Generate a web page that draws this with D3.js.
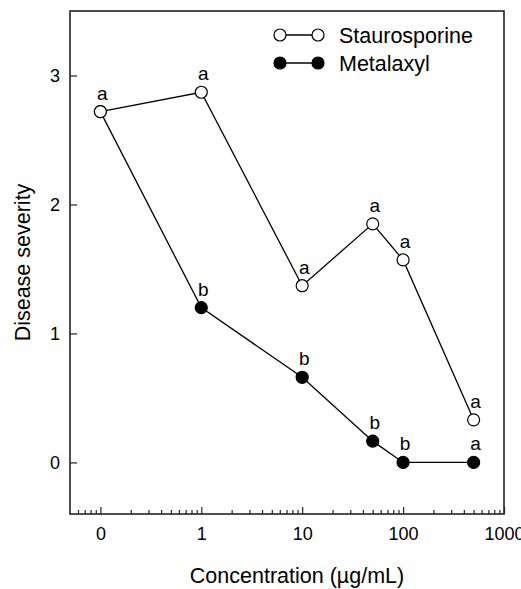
<!DOCTYPE html>
<html>
<head>
<meta charset="utf-8">
<script src="https://cdn.jsdelivr.net/npm/d3@7"></script>
<style>
  body { margin: 0; background: #fff; }
  text { font-family: "Liberation Sans", Arial, sans-serif; fill: #000; }
</style>
</head>
<body>
<div id="chart"></div>
<script>
// concentrations (ug/mL); the "0" control is drawn at 0.1 on the log axis
const concentrations = [0.1, 1, 10, 50, 100, 500];
const staurosporine = [2.72, 2.87, 1.37, 1.85, 1.57, 0.33];
const metalaxyl = [2.72, 1.2, 0.66, 0.165, 0, 0];
const stauroLetters = ["a", "a", "a", "a", "a", "a"];
const metaLetters = ["", "b", "b", "b", "b", "a"];
const xTickValues = [0.1, 1, 10, 100, 1000];
const xTickLabels = ["0", "1", "10", "100", "1000"];
const yTickValues = [0, 1, 2, 3];

var width = 521, height = 589;
var margin = {top: 11, right: 17, bottom: 75, left: 70};
var w = width - margin.left - margin.right,
    h = height - margin.top - margin.bottom;

var svg = d3.select("#chart").append("svg")
  .attr("width", width)
  .attr("height", height)
  .append("g")
    .attr("transform", "translate(" + margin.left + "," + margin.top + ")");

var x = d3.scaleLog().domain([0.05, 1000]).range([0, w]);
var y = d3.scaleLinear().domain([-0.4, 3.5]).range([h, 0]);

// minor ticks on the log axis
var minor = [];
[0.01, 0.1, 1, 10, 100].forEach(function(d) {
  for (var i = 2; i <= 9; i++) {
    var v = d * i;
    if (v > 0.05 && v < 1000) minor.push(v);
  }
});

svg.append("g")
  .attr("transform", "translate(0," + h + ")")
  .call(d3.axisBottom(x).tickValues(minor).tickSize(-4).tickFormat(""))
  .call(function(g) { g.select(".domain").remove(); })
  .selectAll("line").attr("stroke", "#222").attr("stroke-width", 1.2);

// major x ticks
svg.append("g")
  .attr("transform", "translate(0," + h + ")")
  .call(d3.axisBottom(x).tickValues(xTickValues).tickSize(-7).tickPadding(13)
    .tickFormat(function(d, i) { return xTickLabels[i]; }))
  .call(function(g) { g.select(".domain").remove(); })
  .call(function(g) {
    g.selectAll("line").attr("stroke", "#222").attr("stroke-width", 1.2);
    g.selectAll("text").style("font-size", "18px").attr("fill", "#000");
  });

// y axis
svg.append("g")
  .call(d3.axisLeft(y).tickValues(yTickValues).tickSize(-7).tickPadding(10)
    .tickFormat(d3.format("d")))
  .call(function(g) { g.select(".domain").remove(); })
  .call(function(g) {
    g.selectAll("line").attr("stroke", "#222").attr("stroke-width", 1.2);
    g.selectAll("text").style("font-size", "18px").attr("fill", "#000");
  });

// frame
svg.append("rect")
  .attr("width", w).attr("height", h)
  .attr("fill", "none").attr("stroke", "#222").attr("stroke-width", 1.6);

var line = d3.line()
  .x(function(d) { return x(d[0]); })
  .y(function(d) { return y(d[1]); });

function drawSeries(values, letters, fill) {
  var pts = concentrations.map(function(c, i) { return [c, values[i], letters[i]]; });
  svg.append("path")
    .datum(pts)
    .attr("d", line)
    .attr("fill", "none")
    .attr("stroke", "#000")
    .attr("stroke-width", 1.3);
  svg.selectAll(null)
    .data(pts)
    .enter().append("circle")
      .attr("cx", function(d) { return x(d[0]); })
      .attr("cy", function(d) { return y(d[1]); })
      .attr("r", 6)
      .attr("fill", fill)
      .attr("stroke", "#000")
      .attr("stroke-width", 1.2);
  svg.selectAll(null)
    .data(pts.filter(function(d) { return d[2]; }))
    .enter().append("text")
      .attr("x", function(d) { return x(d[0]) + 2; })
      .attr("y", function(d) { return y(d[1]) - 12; })
      .attr("text-anchor", "middle")
      .style("font-size", "19px")
      .text(function(d) { return d[2]; });
}

drawSeries(metalaxyl, metaLetters, "#000");
drawSeries(staurosporine, stauroLetters, "#fff");

// legend
var legend = [
  {name: "Staurosporine", fill: "#fff", y: 24},
  {name: "Metalaxyl", fill: "#000", y: 52}
];
legend.forEach(function(l) {
  var g = svg.append("g");
  g.append("line")
    .attr("x1", 210).attr("x2", 248)
    .attr("y1", l.y).attr("y2", l.y)
    .attr("stroke", "#000").attr("stroke-width", 1.3);
  [210, 248].forEach(function(cx) {
    g.append("circle")
      .attr("cx", cx).attr("cy", l.y).attr("r", 6)
      .attr("fill", l.fill).attr("stroke", "#000").attr("stroke-width", 1.2);
  });
  g.append("text")
    .attr("x", 269).attr("y", l.y + 8)
    .style("font-size", "21.5px")
    .text(l.name);
});

// axis titles
svg.append("text")
  .attr("x", 227).attr("y", h + 69)
  .attr("text-anchor", "middle")
  .style("font-size", "21.5px")
  .text("Concentration (\u00b5g/mL)");

svg.append("text")
  .attr("transform", "rotate(-90)")
  .attr("x", -h / 2).attr("y", -40)
  .attr("text-anchor", "middle")
  .style("font-size", "21.5px")
  .text("Disease severity");
</script>
</body>
</html>
